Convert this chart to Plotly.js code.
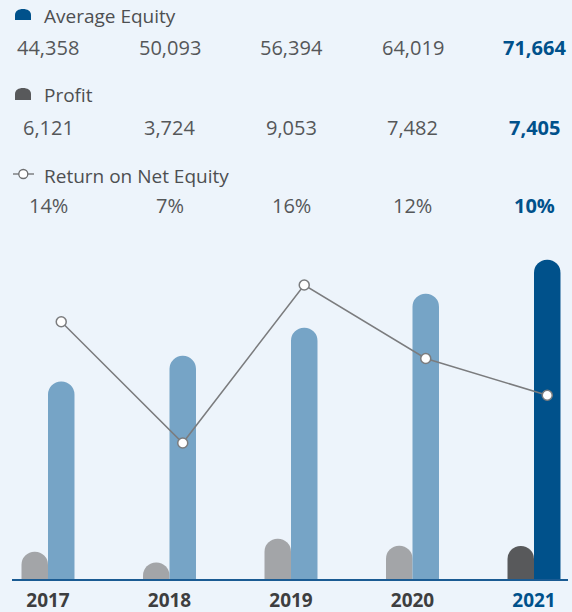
<!DOCTYPE html>
<html>
<head>
<meta charset="utf-8">
<script src="https://cdn.plot.ly/plotly-3.0.1.min.js"></script>
<style>html,body{margin:0;padding:0;background:#edf4fb;}#chart{width:572px;height:612px;}</style>
</head>
<body>
<div id="chart"></div>
<script>
// ---- data ----
var years = [2017, 2018, 2019, 2020, 2021];
var avgEquity = [44358, 50093, 56394, 64019, 71664];
var profit = [6121, 3724, 9053, 7482, 7405];
var roe = [14.0, 7.4, 16.0, 12.0, 10.0];
var roeLabels = ['14%', '7%', '16%', '12%', '10%'];
var seriesNames = ['Average Equity', 'Profit', 'Return on Net Equity'];

// ---- layout constants ----
var W = 572, H = 612;
var mL = 12, mR = 4, mT = 230, mB = 33;
var plotW = W - mL - mR, plotH = H - mT - mB;
var BG = '#edf4fb';
var BLUE = '#00518b', LIGHTBLUE = '#76a4c6', GRAY = '#a3a5a8', DARKGRAY = '#58595b';
var TXT = '#555759', FONT = '"Open Sans", "Noto Sans", sans-serif';
function px(x) { return (x - mL) / plotW; }
function py(y) { return (H - mB - y) / plotH; }
function P(x, y) { return px(x) + ',' + py(y); }

var last = years.length - 1;
var eqColors = years.map(function (y, i) { return i === last ? BLUE : LIGHTBLUE; });
var prColors = years.map(function (y, i) { return i === last ? DARKGRAY : GRAY; });

var groupW = 0.436;
var traces = [
  { type: 'bar', x: years, y: profit, name: seriesNames[1], marker: { color: prColors }, hoverinfo: 'skip' },
  { type: 'bar', x: years, y: avgEquity, name: seriesNames[0], marker: { color: eqColors }, hoverinfo: 'skip' },
  { type: 'scatter', mode: 'lines+markers', x: years.map(function (y) { return y + groupW / 4; }), y: roe, yaxis: 'y2',
    name: seriesNames[2], line: { color: '#7b7c7e', width: 1.5 },
    marker: { size: 10, color: '#ffffff', line: { color: '#7b7c7e', width: 1.5 } }, hoverinfo: 'skip' }
];

function fmt(n) { return n.toLocaleString('en-US'); }
function numRow(vals, centerY) {
  return vals.map(function (v, i) {
    var bold = i === last;
    return { xref: 'x', yref: 'paper', x: years[i], y: py(centerY), xanchor: 'center', yanchor: 'middle',
      text: bold ? '<b>' + v + '</b>' : v, showarrow: false,
      font: { family: FONT, size: 20, color: bold ? BLUE : TXT } };
  });
}
function label(text, x, centerY) {
  return { xref: 'paper', yref: 'paper', x: px(x), y: py(centerY), xanchor: 'left', yanchor: 'middle',
    text: text, showarrow: false, font: { family: FONT, size: 19, color: '#4d4f51' } };
}
var annotations = [].concat(
  [label(seriesNames[0], 42, 16)],
  numRow(avgEquity.map(fmt), 48),
  [label(seriesNames[1], 42, 95)],
  numRow(profit.map(fmt), 128),
  [label(seriesNames[2], 42, 176)],
  numRow(roeLabels, 206)
);

function dome(x0, x1, yTop, yBot, color) {
  var mx = (x0 + x1) / 2, r = (x1 - x0) / 2;
  var path = 'M' + P(x0, yBot) + ' L' + P(x0, yTop + 6) +
    ' C' + P(x0, yTop + 2) + ' ' + P(mx - r * 0.55, yTop) + ' ' + P(mx, yTop) +
    ' C' + P(mx + r * 0.55, yTop) + ' ' + P(x1, yTop + 2) + ' ' + P(x1, yTop + 6) +
    ' L' + P(x1, yBot) + ' Z';
  return { type: 'path', xref: 'paper', yref: 'paper', path: path, fillcolor: color, line: { width: 0 } };
}
var shapes = [
  dome(15, 31, 9, 20, BLUE),
  dome(15, 31, 88, 100, DARKGRAY),
  { type: 'line', xref: 'paper', yref: 'paper', x0: px(13), x1: px(34), y0: py(174), y1: py(174), line: { color: '#6d6e70', width: 1.3 } },
  { type: 'circle', xref: 'paper', yref: 'paper', x0: px(18.8), x1: px(27.8), y0: py(169.5), y1: py(178.5), fillcolor: '#ffffff', line: { color: '#6d6e70', width: 1.3 } }
];

var tickText = years.map(function (y, i) {
  return i === last ? '<span style="color:' + BLUE + '">' + y + '</span>' : String(y);
});

var pxPerUnitEq = 0.004455, pxPerPct = 18.375;
var layout = {
  width: W, height: H,
  margin: { l: mL, r: mR, t: mT, b: mB, pad: 0 },
  paper_bgcolor: BG, plot_bgcolor: BG,
  showlegend: false,
  barmode: 'group', bargap: 1 - groupW, bargroupgap: 0,
  barcornerradius: '50%',
  xaxis: {
    range: [2017 - (48 - mL) / 121.5, 2017 + (W - mR - 48) / 121.5],
    tickvals: years, ticktext: tickText,
    showgrid: false, zeroline: false, showline: true, linecolor: '#1a5b93', linewidth: 2,
    ticks: '', ticklabelstandoff: 3, tickfont: { family: FONT, size: 19, color: '#3d3e40', weight: 700 },
    fixedrange: true
  },
  yaxis: { range: [0, plotH / pxPerUnitEq], visible: false, showgrid: false, zeroline: false, fixedrange: true },
  yaxis2: { range: [0, plotH / pxPerPct], overlaying: 'y', visible: false, showgrid: false, zeroline: false, fixedrange: true },
  annotations: annotations,
  shapes: shapes
};

Plotly.newPlot('chart', traces, layout, { displayModeBar: false, staticPlot: true });
</script>
</body>
</html>
